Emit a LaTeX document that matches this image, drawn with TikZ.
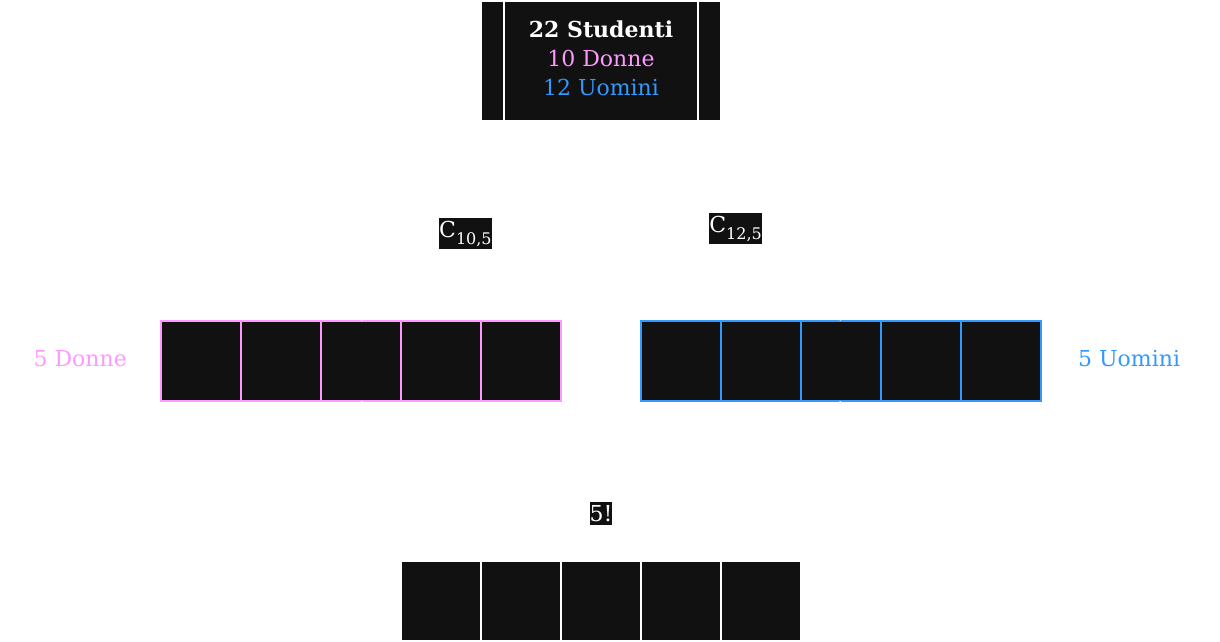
\documentclass[tikz,border=0pt]{standalone}
\usepackage{fontspec}
\setmainfont{DejaVu Serif}
\usetikzlibrary{positioning}

\definecolor{nero}{HTML}{111111}
\definecolor{donna}{HTML}{FF99FF}
\definecolor{uomo}{HTML}{3399FF}
\newcommand{\pedice}[1]{\raisebox{-0.3em}{\fontsize{16}{16}\selectfont #1}}

\begin{document}
\begin{tikzpicture}[x=1pt, y=-1pt,
	cell/.style={fill=nero, line width=2pt, minimum size=80pt, inner sep=0pt},
	lbl/.style={fill=nero, text=white, inner xsep=0pt, inner ysep=3pt, font=\fontsize{22}{26}\selectfont},
	rowlbl/.style={inner sep=0pt, font=\fontsize{22}{26}\selectfont},
	edge/.style={white, line width=2pt}]
	\useasboundingbox (0,0) rectangle (1220,642);
	
	% Classe di partenza
	\node[fill=nero, draw=white, line width=2pt, minimum width=240pt, minimum height=120pt,
	text=white, font=\fontsize{22}{29}\selectfont] (studenti) at (601,61)
	{\raisebox{2pt}{\begin{tabular}{@{}c@{}}\textbf{22 Studenti}\\\textcolor{donna}{10 Donne}\\\textcolor{uomo}{12 Uomini}\end{tabular}}};
	\draw[white, line width=2pt] ([xshift=24pt]studenti.north west) -- ([xshift=24pt]studenti.south west);
	\draw[white, line width=2pt] ([xshift=-24pt]studenti.north east) -- ([xshift=-24pt]studenti.south east);
	
	% Posti: donne, uomini, ordinamento
	\foreach \i in {1,...,5} {
		\node[cell, draw=donna] (d\i) at ({121+80*\i},361) {};
		\node[cell, draw=uomo] (u\i) at ({601+80*\i},361) {};
		\node[cell, draw=white] (p\i) at ({361+80*\i},601) {};
	}
	
	\node[rowlbl, text=donna, left=33pt of d1, yshift=2pt] (ldonne) {5 Donne};
	\node[rowlbl, text=uomo, right=36pt of u5, yshift=2pt] (luomini) {5 Uomini};
	
	% Scelte
	\draw[edge] (studenti.south) -- node[lbl, pos=0.565] (cdonne) {C\pedice{10,5}} (d3.north);
	\draw[edge] (studenti.south) -- node[lbl, pos=0.54, xshift=5pt] (cuomini) {C\pedice{12,5}} (u3.north);
	
	% Permutazioni
	\node[lbl, above=35pt of p3] (fatt) {5!};
	\draw[edge] (d3.south) -- (fatt);
	\draw[edge] (u3.south) -- (fatt);
	\draw[edge] (fatt) -- (p3);
\end{tikzpicture}
\end{document}
